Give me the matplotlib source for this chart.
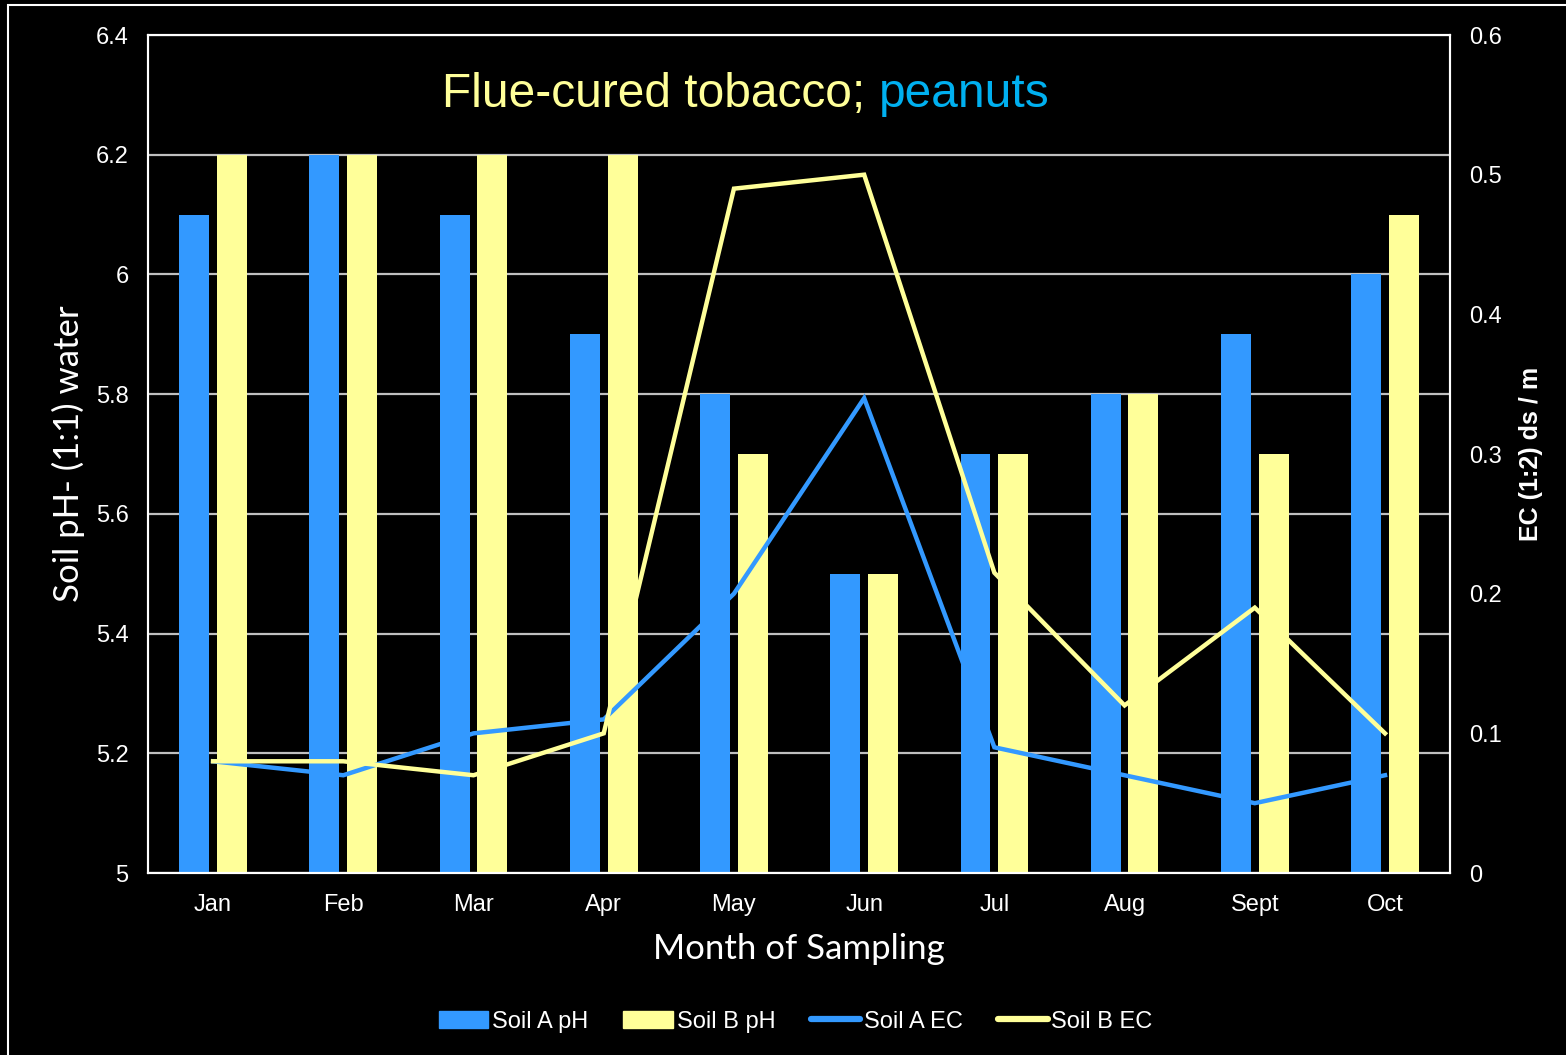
import numpy as np
import matplotlib.pyplot as plt
from matplotlib.patches import Rectangle
from matplotlib.lines import Line2D
from matplotlib.patches import Patch

# monthly soil readings
months = ["Jan", "Feb", "Mar", "Apr", "May", "Jun", "Jul", "Aug", "Sept", "Oct"]
soil_a_ph = [6.1, 6.2, 6.1, 5.9, 5.8, 5.5, 5.7, 5.8, 5.9, 6.0]
soil_b_ph = [6.2, 6.2, 6.2, 6.2, 5.7, 5.5, 5.7, 5.8, 5.7, 6.1]
soil_a_ec = [0.08, 0.07, 0.10, 0.11, 0.20, 0.34, 0.09, 0.07, 0.05, 0.07]
soil_b_ec = [0.08, 0.08, 0.07, 0.10, 0.49, 0.50, 0.215, 0.12, 0.19, 0.10]

blue = "#3399FF"
yellow = "#FFFF99"
font = "Liberation Sans"

fig = plt.figure(figsize=(15.66, 10.55), dpi=100, facecolor="black")
ax = fig.add_axes([0.0945, 0.1725, 0.8315, 0.7943], facecolor="black")
ax2 = ax.twinx()

x = np.arange(len(months))
w = 0.23
off = 0.145
ax.bar(x - off, np.array(soil_a_ph) - 5, width=w, bottom=5, color=blue, zorder=2)
ax.bar(x + off, np.array(soil_b_ph) - 5, width=w, bottom=5, color=yellow, zorder=2)

# EC lines on the secondary axis, drawn above the bars
ax.set_zorder(1)
ax2.set_zorder(2)
ax2.patch.set_visible(False)
ax2.plot(x, soil_a_ec, color=blue, lw=3.2, solid_joinstyle="miter")
ax2.plot(x, soil_b_ec, color=yellow, lw=3.2, solid_joinstyle="miter")

ax.set_xlim(-0.5, len(months) - 0.5)
ax.set_ylim(5, 6.4)
ax.set_yticks(np.arange(5, 6.41, 0.2))
ax.set_yticklabels(["5", "5.2", "5.4", "5.6", "5.8", "6", "6.2", "6.4"])
ax2.set_ylim(0, 0.6)
ax2.set_yticks(np.arange(0, 0.61, 0.1))
ax2.set_yticklabels(["0", "0.1", "0.2", "0.3", "0.4", "0.5", "0.6"])
ax.set_xticks(x)
ax.set_xticklabels(months)

ax.grid(axis="y", color="#BFBFBF", lw=1.6, zorder=0)
ax.set_axisbelow(True)

for a in (ax, ax2):
    for s in a.spines.values():
        s.set_color("white")
        s.set_linewidth(1.5)
    a.tick_params(length=0, colors="white", labelsize=17)
    for lbl in a.get_xticklabels() + a.get_yticklabels():
        lbl.set_family(font)
ax.tick_params(axis="y", pad=14)
ax2.tick_params(axis="y", pad=14)
ax.tick_params(axis="x", pad=15)

ax.set_xlabel("Month of Sampling", color="white", fontsize=25, family="Lato", labelpad=12)
ax.set_ylabel("Soil pH- (1:1) water", color="white", fontsize=25, family="Lato", labelpad=8)
ax2.set_ylabel("EC (1:2) ds / m", color="white", fontsize=18, family=font,
               fontweight="bold", labelpad=12)

# two-colour title, centred as one line
ty = 0.929
t1 = ax.text(0.5, ty, "Flue-cured tobacco; ", transform=ax.transAxes, color=yellow,
             fontsize=34.5, family=font, ha="right", va="center")
fig.canvas.draw()
bb = t1.get_window_extent().transformed(ax.transAxes.inverted())
t2 = ax.text(bb.x1, ty, "peanuts", transform=ax.transAxes, color="#00B0F0",
             fontsize=34.5, family=font, ha="left", va="center")
fig.canvas.draw()
b2 = t2.get_window_extent().transformed(ax.transAxes.inverted())
dx = 0.459 - (bb.x0 + b2.x1) / 2
t1.set_x(0.5 + dx)
t2.set_x(bb.x1 + dx)

handles = [Patch(color=blue), Patch(color=yellow),
           Line2D([], [], color=blue, lw=4.5, solid_capstyle="round"),
           Line2D([], [], color=yellow, lw=4.5, solid_capstyle="round")]
labels = ["Soil A pH", "Soil B pH", "Soil A EC", "Soil B EC"]
leg = fig.legend(handles, labels, loc="center", bbox_to_anchor=(0.508, 0.0315), ncol=4,
                 frameon=False, handlelength=2.1, handleheight=0.75, handletextpad=0.15,
                 columnspacing=1.5, prop={"family": font, "size": 17})
for txt in leg.get_texts():
    txt.set_color("white")

# thin white frame round the figure
fig.add_artist(Rectangle((0.005, -0.01), 1.1, 1.005, transform=fig.transFigure,
                         fill=False, edgecolor="white", lw=1.5))

fig.savefig("out.png", dpi=100, facecolor="black")
